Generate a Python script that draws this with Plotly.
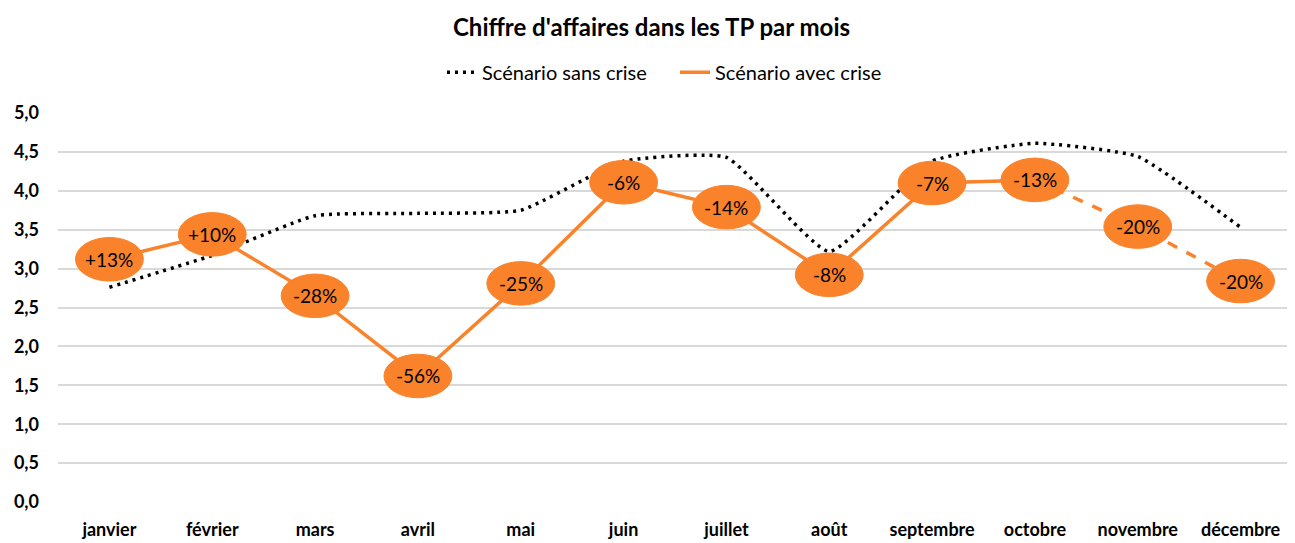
import plotly.graph_objects as go

months = ["janvier", "février", "mars", "avril", "mai", "juin", "juillet",
          "août", "septembre", "octobre", "novembre", "décembre"]
sans_crise = [2.76, 3.17, 3.68, 3.71, 3.75, 4.38, 4.43, 3.22, 4.38, 4.61, 4.44, 3.53]
avec_crise = [3.12, 3.44, 2.65, 1.62, 2.81, 4.11, 3.79, 2.92, 4.10, 4.14, 3.54, 2.84]
variation_labels = ["+13%", "+10%", "-28%", "-56%", "-25%", "-6%", "-14%",
                    "-8%", "-7%", "-13%", "-20%", "-20%"]
y_ticks = [0, 0.5, 1.0, 1.5, 2.0, 2.5, 3.0, 3.5, 4.0, 4.5, 5.0]
y_tick_labels = ["0,0", "0,5", "1,0", "1,5", "2,0", "2,5", "3,0", "3,5", "4,0", "4,5", "5,0"]
last_solid = 9  # octobre: solid up to here, dashed afterwards

ORANGE = "#F9822B"
FONT = "Lato, Carlito, Calibri, Arial, sans-serif"

xs = list(range(len(months)))

fig = go.Figure()
fig.add_trace(go.Scatter(
    x=xs, y=sans_crise, mode="lines", name="Scénario sans crise",
    line=dict(color="black", width=3.5, dash="3px,5px", shape="spline", smoothing=0.45),
))
fig.add_trace(go.Scatter(
    x=xs[:last_solid + 1], y=avec_crise[:last_solid + 1], mode="lines",
    name="Scénario avec crise", line=dict(color=ORANGE, width=3.5),
))
fig.add_trace(go.Scatter(
    x=xs[last_solid:], y=avec_crise[last_solid:], mode="lines",
    showlegend=False, hoverinfo="skip",
    line=dict(color=ORANGE, width=3.5, dash="dash"),
))

# ellipse markers and their labels (positions from the data, sizes in axis units)
rx, ry = 0.33, 0.28
for x, v, lab in zip(xs, avec_crise, variation_labels):
    fig.add_shape(type="circle", xref="x", yref="y",
                  x0=x - rx, x1=x + rx, y0=v - ry, y1=v + ry,
                  fillcolor=ORANGE, line=dict(color=ORANGE, width=1), layer="above")
    fig.add_annotation(x=x, y=v, text=lab, showarrow=False,
                       font=dict(family=FONT, size=19, color="black"))

fig.update_layout(
    width=1287, height=535, autosize=False,
    margin=dict(l=50, r=3, t=105, b=38),
    paper_bgcolor="white", plot_bgcolor="white",
    font=dict(family=FONT, color="black"),
    title=dict(text="<b>Chiffre d'affaires dans les TP par mois</b>",
               x=0.5, xanchor="center", y=0.963, yanchor="middle",
               font=dict(family=FONT, size=24, color="black")),
    legend=dict(orientation="h", x=0.5, xanchor="center", y=1.105, yanchor="middle",
                font=dict(family=FONT, size=20, color="black"),
                entrywidth=188, entrywidthmode="pixels",
                tracegroupgap=0, bgcolor="rgba(0,0,0,0)"),
    showlegend=True,
)
fig.update_xaxes(range=[-0.5, len(months) - 0.5], tickmode="array", tickvals=xs,
                 ticktext=["<b>%s</b>" % m for m in months],
                 showgrid=False, zeroline=False, showline=False, ticks="",
                 tickfont=dict(family=FONT, size=18, color="black"), ticklabelstandoff=15)
fig.update_yaxes(range=[0, 5.0], tickmode="array", tickvals=y_ticks,
                 ticktext=["<b>%s</b>" % t for t in y_tick_labels],
                 showgrid=True, gridcolor="#D9D9D9", gridwidth=1.5,
                 zeroline=False, showline=False, ticks="",
                 tickfont=dict(family=FONT, size=18, color="black"), ticklabelstandoff=18)

fig.write_html("out.html")
